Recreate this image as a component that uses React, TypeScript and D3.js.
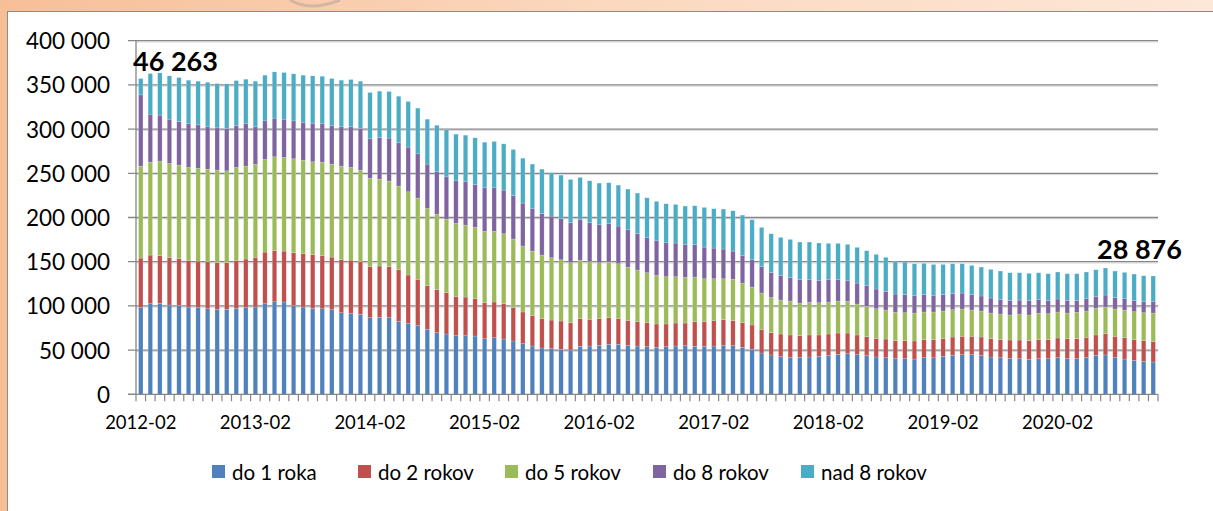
import React from "react";
import * as d3 from "d3";

// Segment values (in thousands), one entry per month 2012-02 .. 2020-12
const do1Roka = [98.3,102.5,102.9,101.0,100.6,98.7,98.0,96.8,96.1,96.1,97.2,98.0,98.7,102.5,104.7,104.4,100.2,98.7,97.2,96.8,95.7,92.3,91.6,90.4,86.7,87.0,86.7,82.5,80.3,78.0,73.5,69.7,68.2,66.3,66.3,65.9,62.9,64.1,62.5,60.3,57.3,54.6,52.4,51.6,50.9,50.1,54.3,54.6,55.4,56.5,56.5,55.4,54.6,53.9,53.1,53.9,54.6,55.0,54.3,54.3,54.6,55.4,55.0,53.1,50.9,46.7,44.5,42.6,41.8,41.8,42.2,43.0,44.1,45.2,46.0,44.8,43.7,42.2,41.4,40.3,40.3,39.9,41.4,41.4,43.0,44.1,44.8,44.8,44.1,42.2,41.4,40.7,40.3,39.6,40.3,40.3,41.8,40.3,40.3,41.8,44.1,44.5,41.8,39.9,38.4,37.3,36.5];
const do2Rokov = [55.8,55.0,53.8,53.5,53.1,52.8,52.7,53.2,52.7,52.7,53.9,55.0,56.2,58.4,58.1,57.6,59.9,60.3,60.7,59.9,59.5,60.3,60.2,59.6,57.6,58.1,57.6,58.4,54.6,52.0,49.3,48.6,46.7,44.5,43.7,42.2,40.7,40.3,40.0,37.7,35.8,34.3,33.1,32.4,32.0,30.9,31.2,30.2,30.1,30.2,29.0,28.2,27.5,27.1,26.4,25.6,26.0,25.6,27.8,27.8,28.7,29.0,28.3,27.9,27.5,26.8,25.2,25.6,25.3,24.5,24.9,24.1,24.1,24.1,23.3,22.3,21.5,21.1,21.1,20.4,20.4,20.4,20.4,20.4,19.9,20.7,20.8,20.8,20.7,20.7,20.4,20.7,21.1,21.1,21.5,21.5,21.9,22.6,22.6,22.6,23.0,24.1,23.8,24.2,23.4,23.4,23.0];
const do5Rokov = [104.0,105.1,107.1,106.6,105.5,105.1,105.1,104.7,104.8,104.0,105.5,105.1,105.1,104.7,105.9,105.9,106.3,105.9,105.1,105.9,105.2,105.5,104.8,103.6,100.2,98.3,96.8,94.6,94.2,91.9,87.4,85.2,83.3,82.5,81.4,80.7,80.7,79.9,79.1,77.6,74.6,73.1,72.0,70.5,69.3,67.8,66.3,65.2,63.3,62.9,62.2,60.3,58.4,56.5,55.0,53.5,52.4,51.7,50.5,48.6,47.4,46.3,46.7,44.8,42.9,41.0,39.9,38.4,38.4,36.9,36.9,36.5,36.2,36.2,35.8,35.0,34.3,33.5,32.8,32.0,31.6,31.6,31.3,31.3,31.3,30.9,30.9,29.7,29.4,29.0,29.0,28.3,29.4,29.0,29.8,29.4,29.4,29.0,29.8,29.8,30.1,30.1,30.9,30.9,31.6,31.6,32.4];
const do8Rokov = [80.6,54.3,52.0,50.1,49.4,49.4,49.0,47.9,47.8,47.9,47.1,47.9,42.6,43.7,43.7,43.3,42.9,42.9,43.7,43.4,43.3,44.5,46.0,47.1,44.5,47.1,48.7,49.0,50.5,50.1,50.2,48.2,47.8,48.2,49.0,48.6,49.3,49.3,49.4,49.3,48.6,47.9,47.1,47.1,46.4,45.6,45.6,44.0,43.0,43.3,42.6,42.2,41.1,39.6,39.2,38.4,38.1,36.9,36.6,35.8,34.7,33.6,32.0,30.9,30.9,29.8,28.3,27.5,26.4,26.4,25.6,25.3,25.2,24.1,23.4,23.7,23.3,22.3,21.1,20.7,20.4,19.6,19.6,18.4,18.5,18.1,18.0,17.4,17.0,17.0,16.6,16.6,15.8,16.2,15.4,14.7,14.7,14.4,13.6,13.9,13.6,13.6,12.8,13.1,12.9,12.4,12.8];
const nad8Rokov = [18.5,45.9,47.8,49.0,49.7,49.3,49.4,50.4,50.1,50.5,51.2,50.4,51.6,51.7,52.3,52.8,53.2,53.2,53.5,53.8,53.5,52.7,53.5,53.5,52.4,52.4,52.7,52.7,51.6,51.7,50.8,52.7,53.2,52.8,52.7,52.7,51.6,52.4,52.3,52.0,50.8,50.5,50.1,49.0,49.3,48.6,47.9,47.5,47.1,46.4,46.3,46.0,46.0,45.2,44.5,44.1,43.7,43.7,44.1,44.9,44.5,45.2,45.6,46.0,45.2,44.5,43.7,43.4,43.3,42.6,42.6,42.2,41.1,41.1,41.1,40.4,39.6,39.2,38.5,36.9,36.9,36.2,35.4,35.4,34.2,33.9,33.2,33.1,32.7,32.4,32.0,31.2,30.9,30.9,30.5,30.5,30.5,30.1,30.1,30.2,30.1,30.5,30.1,29.8,29.7,29.4,29.1];

const seriesNames = ["do 1 roka", "do 2 rokov", "do 5 rokov", "do 8 rokov", "nad 8 rokov"];
const seriesColors = ["#4F81BD", "#C0504D", "#9BBB59", "#8064A2", "#4BACC6"];
const seriesData = [do1Roka, do2Rokov, do5Rokov, do8Rokov, nad8Rokov];

const yTicks = [0, 50000, 100000, 150000, 200000, 250000, 300000, 350000, 400000];
const xTickLabels = ["2012-02", "2013-02", "2014-02", "2015-02", "2016-02", "2017-02", "2018-02", "2019-02", "2020-02"];
const annotations = [
  { text: "46 263", idx: 0 },
  { text: "28 876", idx: 106 },
];

const fmtMonth = d3.timeFormat("%Y-%m");
const months = d3.timeMonth.range(new Date(2012, 1, 1), new Date(2021, 0, 1)).map(fmtMonth);

const FONT = "Lato, 'Open Sans', sans-serif";

export default function App() {
  const W = 1213, H = 511;
  const left = 136, right = 1158, top = 40.7, bottom = 394.3;

  const x = d3.scaleBand<string>().domain(months).range([left, right]).paddingInner(0.54).paddingOuter(0.27);
  const y = d3.scaleLinear().domain([0, 400000]).range([bottom, top]);

  const rows = months.map((m, i) => {
    const r: any = { month: m };
    seriesNames.forEach((s, k) => (r[s] = seriesData[k][i] * 1000));
    return r;
  });
  const stack = d3.stack<any>().keys(seriesNames)(rows);
  const fmt = (v: number) => d3.format(",")(v).replace(/,/g, " ");
  const step = x.step();
  const boundaries = months.map((_, i) => left + i * step).concat([right]);

  const legendX = [212, 358, 505, 653, 801];

  return (
    <svg width={W} height={H} style={{ position: "absolute", left: 0, top: 0, display: "block" }}>
      <defs>
        <linearGradient id="bg" x1="0" y1="0" x2="1" y2="0">
          <stop offset="0" stopColor="#f7bf98" />
          <stop offset="0.5" stopColor="#fbd8bf" />
          <stop offset="1" stopColor="#fde7d8" />
        </linearGradient>
      </defs>
      <rect x={0} y={0} width={W} height={H} fill="url(#bg)" />
      <path d="M 290 0 Q 310 12 340 0" fill="none" stroke="#b9a89c" strokeWidth={3} opacity={0.6} />
      <rect x={7.5} y={11.5} width={W} height={H} fill="#ffffff" stroke="#8c8c8c" strokeWidth={1} />

      {yTicks.map((t) => (
        <g key={t}>
          {t > 0 && <line x1={left} x2={right} y1={y(t) + 1.3} y2={y(t) + 1.3} stroke="#d8d8d8" strokeWidth={1} />}
          <line x1={left - 8} x2={t > 0 ? right : left} y1={y(t)} y2={y(t)} stroke="#868686" strokeWidth={1.3} />
          <text x={110} y={y(t)} textAnchor="end" dominantBaseline="central" fontFamily={FONT} fontSize={22.5} fill="#000">
            {fmt(t)}
          </text>
        </g>
      ))}

      {stack.map((layer, k) => (
        <g key={k} fill={seriesColors[k]}>
          {layer.map((d, i) => (
            <rect
              key={i}
              x={x(months[i])!}
              y={y(d[1])}
              width={x.bandwidth()}
              height={Math.max(0, y(d[0]) - y(d[1]))}
              stroke="#ffffff"
              strokeOpacity={0.35}
              strokeWidth={0.5}
            />
          ))}
        </g>
      ))}

      <line x1={left} x2={left} y1={top} y2={bottom} stroke="#868686" strokeWidth={1.3} />
      <line x1={left - 8} x2={right} y1={bottom} y2={bottom} stroke="#868686" strokeWidth={1.3} />
      {boundaries.map((bx, i) => (
        <line key={i} x1={bx} x2={bx} y1={bottom} y2={bottom + 7} stroke="#868686" strokeWidth={1.2} />
      ))}
      {xTickLabels.map((l) => (
        <text key={l} x={x(l)! + x.bandwidth() / 2} y={429} textAnchor="middle" fontFamily={FONT} fontSize={18.5} fill="#000">
          {l}
        </text>
      ))}

      {annotations.map((a) => (
        <text
          key={a.text}
          x={a.idx === 0 ? 133 : 1097}
          y={a.idx === 0 ? 70.7 : 259}
          fontFamily={FONT}
          fontWeight="bold"
          fontSize={27}
          fill="#000"
        >
          {a.text}
        </text>
      ))}

      {seriesNames.map((s, k) => (
        <g key={s}>
          <rect x={legendX[k]} y={465} width={13} height={13} fill={seriesColors[k]} />
          <text x={legendX[k] + 20} y={472} dominantBaseline="central" fontFamily={FONT} fontSize={20.5} fill="#000">
            {s}
          </text>
        </g>
      ))}
    </svg>
  );
}
